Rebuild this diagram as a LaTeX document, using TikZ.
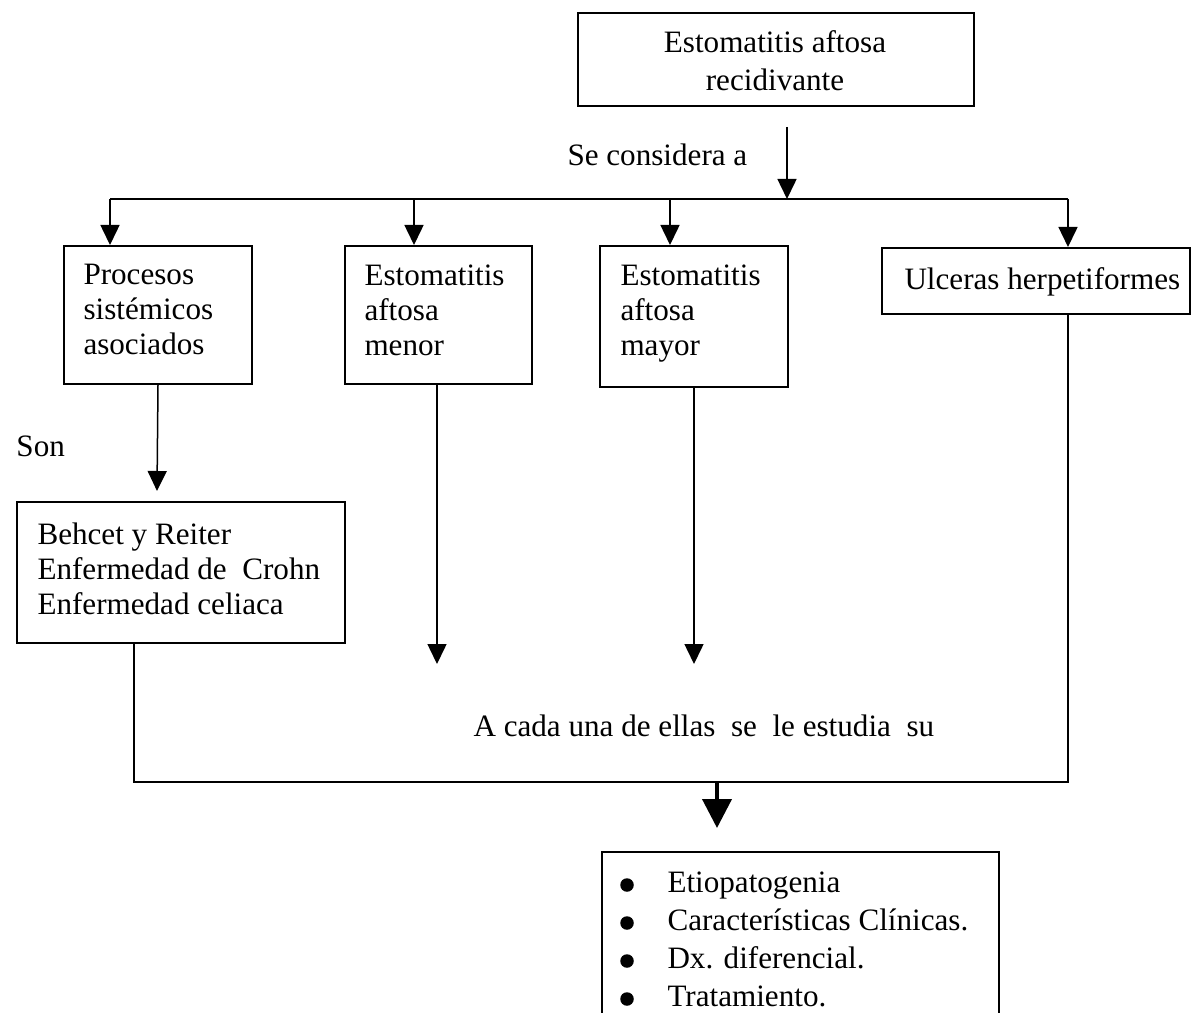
\documentclass[tikz,border=0pt]{standalone}
\usepackage{fontspec}
\setmainfont{Liberation Serif}
\usetikzlibrary{arrows.meta}
\begin{document}
\begin{tikzpicture}[x=0.4pt,y=-0.4pt,
  box/.style={draw,line width=0.8pt,inner sep=0pt,anchor=north west},
  txt/.style={inner sep=0pt,anchor=north west,align=left,font=\fontsize{12.45}{14}\selectfont},
  link/.style={line width=0.6pt},
  arr/.style={link,-{Triangle[width=7.6pt,length=8pt]}},
  bigarr/.style={line width=1.6pt,-{Triangle[width=11.6pt,length=11.6pt]}},
  dot/.style={fill=black}]
\clip (0,0) rectangle (1191,1012);
\fill[white] (0,0) rectangle (1191,1012);

% boxes
\node[box,minimum width=158.4pt,minimum height=37.2pt] (top) at (577,12) {};
\node[box,minimum width=75.2pt,minimum height=55.2pt] (proc) at (63,245) {};
\node[box,minimum width=74.8pt,minimum height=55.2pt] (menor) at (344,245) {};
\node[box,minimum width=75.2pt,minimum height=56.4pt] (mayor) at (599,245) {};
\node[box,minimum width=123.2pt,minimum height=26.4pt] (ulc) at (881,247) {};
\node[box,minimum width=131.2pt,minimum height=56.4pt] (behcet) at (16,501) {};
\node[box,minimum width=158.8pt,minimum height=90pt] (list) at (601,851) {};

% texts
\node[txt,anchor=north,align=center,font=\fontsize{12.45}{15.2}\selectfont] (ttop) at (775,30) {Estomatitis aftosa\\recidivante};
\node[txt] (tcons) at (567,143) {Se considera a};
\node[txt] (tproc) at (83,264) {Procesos\\sistémicos\\asociados};
\node[txt] (tmenor) at (364,264) {Estomatitis\\aftosa\\menor};
\node[txt] (tmayor) at (620,264) {Estomatitis\\aftosa\\mayor};
\node[txt] (tulc) at (904,267) {Ulceras herpetiformes};
\node[txt] (tson) at (16,435) {Son};
\node[txt] (tbeh) at (37,522) {Behcet y Reiter\\Enfermedad de\ \ Crohn\\Enfermedad celiaca};
\node[txt] (tcada) at (473,714) {A cada una de ellas\ \ se\ \ le estudia\ \ su};
\node[txt,font=\fontsize{12.45}{15.2}\selectfont] (tlist) at (667,871)
  {Etiopatogenia\\Características Clínicas.\\Dx. diferencial.\\Tratamiento.};

% list bullets
\foreach \yy in {885,923,961,999}
  \fill[dot] (627,\yy) circle[radius=2.7pt];

% branching from the title
\coordinate (cstart) at (787,127);
\coordinate (cbus) at (787,199);
\coordinate (bp) at (110,199);
\coordinate (bme) at (414,199);
\coordinate (bma) at (670,199);
\coordinate (bu) at (1068,199);
\draw[arr] (cstart) -- (cbus);
\draw[link] (bp) -- (bu);
\draw[arr] (bp) -- (bp |- proc.north);
\draw[arr] (bme) -- (bme |- menor.north);
\draw[arr] (bma) -- (bma |- mayor.north);
\draw[arr] (bu) -- (bu |- ulc.north);

% downward links
\coordinate (sontip) at (157,491);
\draw[arr] (proc.south) -- (sontip);
\coordinate (metip) at (437,664);
\draw[arr] (menor.south -| metip) -- (metip);
\coordinate (matip) at (694,664);
\draw[arr] (mayor.south -| matip) -- (matip);

% collecting line
\coordinate (jR) at (1068,782);
\coordinate (jL) at (134,782);
\draw[link] (ulc.south -| jR) -- (jR) -- (jL) -- (jL |- behcet.south);
\coordinate (bstart) at (717,782);
\coordinate (btip) at (717,828);
\draw[bigarr] (bstart) -- (btip);
\end{tikzpicture}
\end{document}
